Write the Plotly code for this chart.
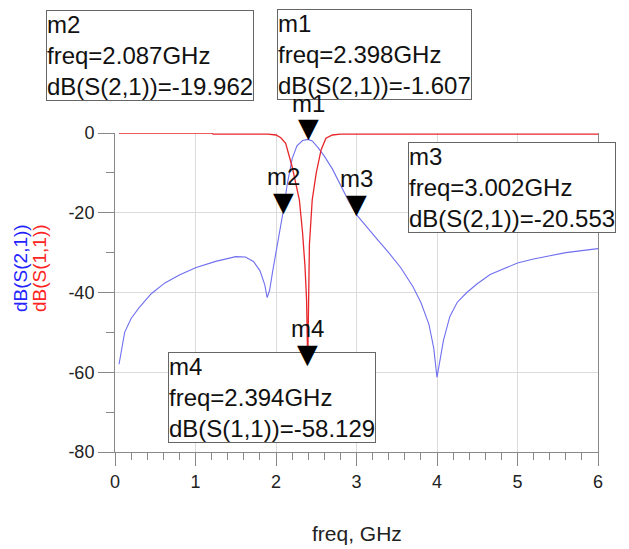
import plotly.graph_objects as go

# ---------------- data ----------------
freq_s21 = [0.05, 0.12, 0.2, 0.3, 0.45, 0.62, 0.8, 1.0, 1.25, 1.5, 1.62, 1.72, 1.8, 1.86,
            1.89, 1.92, 1.96, 2.0, 2.04, 2.087, 2.14, 2.2, 2.26, 2.33, 2.398, 2.45, 2.52,
            2.6, 2.7, 2.8, 2.9, 3.002, 3.1, 3.25, 3.4, 3.55, 3.7, 3.8, 3.9, 3.96, 4.0,
            4.03, 4.08, 4.16, 4.25, 4.37, 4.5, 4.66, 4.85, 5.0, 5.2, 5.4, 5.6, 5.8, 6.0]
db_s21 = [-58, -50, -46.5, -43.8, -40.3, -37.6, -35.6, -33.8, -32.2, -31.0, -31.1, -32.2,
          -34.5, -38, -41.3, -39.5, -34.5, -30, -25, -19.962, -12.8, -6.5, -3.2, -1.9,
          -1.607, -2.0, -3.6, -5.8, -9.0, -13.0, -17.0, -20.553, -22.8, -26.5, -30.0,
          -33.8, -38.5, -42.5, -48, -54, -61.3, -58, -52, -46, -42.5, -40, -37.8, -35.5,
          -33.8, -32.6, -31.6, -30.8, -30.0, -29.5, -29.0]

freq_s11 = [0.05, 1.2, 1.22, 1.9, 2.0, 2.06, 2.12, 2.2, 2.29, 2.33, 2.36, 2.38, 2.394,
            2.405, 2.415, 2.45, 2.5, 2.56, 2.62, 2.7, 2.8, 6.0]
db_s11 = [0, 0, -0.3, -0.3, -0.5, -1.2, -2.6, -8.4, -16.75, -25, -33.4, -42, -58.129,
          -40, -28, -16.75, -10, -4.25, -1.3, -0.5, -0.3, -0.3]

x_ticks = [0, 1, 2, 3, 4, 5, 6]
y_ticks = [0, -20, -40, -60, -80]

marker_names = ["m1", "m2", "m3", "m4"]
marker_freq = [2.398, 2.087, 3.002, 2.394]
marker_val = [-1.607, -19.962, -20.553, -58.129]
marker_param = ["dB(S(2,1))", "dB(S(2,1))", "dB(S(2,1))", "dB(S(1,1))"]

# box placement (paper coords, top-left corner)
box_pos = {"m1": (0.3354, 1.3887), "m2": (-0.1429, 1.3856),
           "m3": (0.6066, 0.9718), "m4": (0.1097, 0.3135)}

FONT = "Liberation Sans, Arial, sans-serif"
BLUE = "#6f6ff0"
RED = "#e8262a"

fig = go.Figure()
fig.add_trace(go.Scatter(x=freq_s21, y=db_s21, mode="lines",
                         line=dict(color=BLUE, width=1.1), showlegend=False))
fig.add_trace(go.Scatter(x=freq_s11, y=db_s11, mode="lines",
                         line=dict(color=RED, width=1.3), showlegend=False))

annotations = []
for name, f, v, p in zip(marker_names, marker_freq, marker_val, marker_param):
    bx, by = box_pos[name]
    annotations.append(dict(
        xref="paper", yref="paper", x=bx, y=by, xanchor="left", yanchor="top",
        text=f"{name}<br>freq={f:.3f}GHz<br>{p}={v:.3f}", showarrow=False, align="left",
        font=dict(family=FONT, size=24, color="#111"), bgcolor="white",
        bordercolor="#666", borderwidth=1, borderpad=0))
for name, f, v in zip(marker_names, marker_freq, marker_val):
    # downward triangle whose tip sits on the marker point
    annotations.append(dict(x=f, y=v, xref="x", yref="y", text="\u25BC", showarrow=False,
                            xanchor="center", yanchor="bottom", yshift=-6,
                            font=dict(family="DejaVu Sans", size=27, color="black")))
    annotations.append(dict(x=f, y=v, xref="x", yref="y", text=name, showarrow=False,
                            yshift=36, font=dict(family=FONT, size=24, color="#111")))

# y-axis titles (two coloured lines)
annotations.append(dict(xref="paper", yref="paper", x=-0.1946, y=0.577, text="dB(S(2,1))",
                        textangle=-90, showarrow=False, xanchor="center", yanchor="middle",
                        font=dict(family=FONT, size=19, color="#2424ff")))
annotations.append(dict(xref="paper", yref="paper", x=-0.155, y=0.577, text="dB(S(1,1))",
                        textangle=-90, showarrow=False, xanchor="center", yanchor="middle",
                        font=dict(family=FONT, size=19, color="#ff2424")))
annotations.append(dict(xref="paper", yref="paper", x=0.5, y=-0.254, text="freq, GHz",
                        showarrow=False, xanchor="center", yanchor="middle",
                        font=dict(family=FONT, size=21, color="#222")))

fig.update_layout(
    width=621, height=541,
    margin=dict(l=107, r=31, t=125, b=97),
    paper_bgcolor="white", plot_bgcolor="white",
    annotations=annotations,
    xaxis=dict(range=[0, 6], tickvals=x_ticks, ticktext=[str(t) for t in x_ticks],
               showgrid=True, gridcolor="#dcdcdc", gridwidth=1, zeroline=False,
               showline=True, linecolor="#888", linewidth=1, mirror=False,
               ticks="outside", ticklen=13, tickcolor="#888",
               minor=dict(dtick=0.2, ticks="outside", ticklen=7, tickcolor="#888", showgrid=False),
               tickfont=dict(family=FONT, size=18, color="#222")),
    yaxis=dict(range=[-80, 0], tickvals=y_ticks, ticktext=[str(t) for t in y_ticks],
               showgrid=True, gridcolor="#dcdcdc", gridwidth=1, zeroline=False,
               showline=True, linecolor="#888", linewidth=1, mirror=True,
               ticks="outside", ticklen=16, tickcolor="#888",
               minor=dict(dtick=10, ticks="outside", ticklen=8, tickcolor="#888", showgrid=False),
               tickfont=dict(family=FONT, size=18, color="#222")),
)

fig.write_html("out.html")
